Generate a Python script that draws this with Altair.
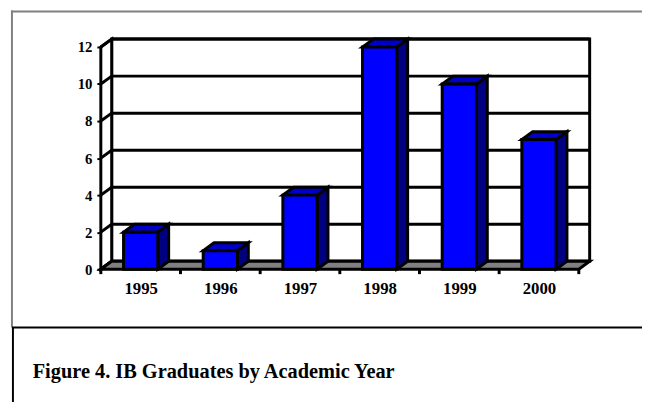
import altair as alt
import pandas as pd

# ---- data ----
categories = ["1995", "1996", "1997", "1998", "1999", "2000"]
values = [2, 1, 4, 12, 10, 7]
y_ticks = [0, 2, 4, 6, 8, 10, 12]
caption = "Figure 4. IB Graduates by Academic Year"

# ---- layout / style ----
W, H = 484, 225
N = len(categories)
YMAX = 12
PX_DX, PX_DY = 11, 8                 # 3-D depth in pixels
DX = PX_DX * N / W                   # depth in x data units
DY = PX_DY * YMAX / H                # depth in y data units
HALF = 0.215                         # half bar width (category units)
FONT = "Liberation Serif"
LW = 3

label_expr = "[" + ",".join("'%s'" % c for c in categories) + "][floor(datum.value)]"
XS = alt.Scale(domain=[0, N], nice=False, zero=False)
YS = alt.Scale(domain=[0, YMAX], nice=False, zero=False)
X_AXIS = alt.Axis(values=[i + 0.5 for i in range(N)], labelExpr=label_expr, ticks=False,
                  tickSize=0, domain=False, grid=False, title=None, labelFont=FONT,
                  labelFontWeight="bold", labelFontSize=17, labelPadding=12,
                  labelFlush=False, labelOverlap=False, labelColor="black")
Y_AXIS = alt.Axis(values=y_ticks, tickSize=4, tickWidth=2, tickColor="black", domain=False,
                  grid=False, title=None, labelFont=FONT, labelFontWeight="bold",
                  labelFontSize=15, labelPadding=5, labelFlush=False, labelColor="black")


def X(f):
    return alt.X(f, type="quantitative", scale=XS, axis=X_AXIS)


def Y(f):
    return alt.Y(f, type="quantitative", scale=YS, axis=Y_AXIS)


# ---- derived tables ----
bars = pd.DataFrame({"cat": categories, "v": values, "i": range(N)})
bars["x0"] = bars["i"] + 0.5 - HALF
bars["x1"] = bars["i"] + 0.5 + HALF

side_rows, top_rows = [], []
for c, v, x0, x1 in zip(bars["cat"], bars["v"], bars["x0"], bars["x1"]):
    side_rows += [{"cat": c, "x": x1, "lo": 0, "hi": v},
                  {"cat": c, "x": x1 + DX, "lo": DY, "hi": v + DY}]
    top_rows += [{"cat": c, "y": v, "xa": x0, "xb": x1},
                 {"cat": c, "y": v + DY, "xa": x0 + DX, "xb": x1 + DX}]
side = pd.DataFrame(side_rows)
top = pd.DataFrame(top_rows)

wall = pd.DataFrame({"xa": [DX], "xb": [N + DX], "ya": [DY], "yb": [YMAX + DY]})
grid = pd.DataFrame({"t": y_ticks})
grid["tb"] = grid["t"] + DY
grid["xa"] = DX
grid["xb"] = N + DX
grid["x0"] = 0.0
left = pd.DataFrame({"x": [0, DX], "lo": [0, DY], "hi": [YMAX, YMAX + DY]})
floor = pd.DataFrame({"y": [0, DY], "xa": [0, DX], "xb": [N, N + DX]})
bounds = pd.DataFrame({"b": list(range(N + 1))})
dummy = pd.DataFrame({"a": [0]})

# ---- layers ----
back = alt.Chart(wall).mark_rect(fill="white", stroke="black", strokeWidth=LW).encode(
    x=X("xa"), x2="xb", y=Y("ya"), y2="yb")
back_grid = alt.Chart(grid).mark_rule(color="black", strokeWidth=LW).encode(
    x=X("xa"), x2="xb", y=Y("tb"))
left_wall = alt.Chart(left).mark_area(fill="white", stroke="black", strokeWidth=LW,
                                      opacity=1).encode(x=X("x"), y=Y("lo"), y2="hi")
left_grid = alt.Chart(grid).mark_rule(color="black", strokeWidth=LW).encode(
    x=X("x0"), x2="xa", y=Y("t"), y2="tb")
floor_l = alt.Chart(floor).mark_area(orient="horizontal", fill="#808080", stroke="black",
                                     strokeWidth=LW, opacity=1).encode(
    y=Y("y"), x=X("xa"), x2="xb")
xticks = alt.Chart(bounds).mark_rule(color="black", strokeWidth=LW).encode(
    x=X("b"), y=alt.value(H), y2=alt.value(H + 5))
sides = alt.Chart(side).mark_area(fill="#000080", stroke="black", strokeWidth=LW,
                                  opacity=1).encode(
    x=X("x"), y=Y("lo"), y2="hi", detail="cat:N")
tops = alt.Chart(top).mark_area(orient="horizontal", fill="#0000C8", stroke="black",
                                strokeWidth=LW, opacity=1).encode(
    y=Y("y"), x=X("xa"), x2="xb", detail="cat:N")
fronts = alt.Chart(bars).mark_rect(fill="#0000FF", stroke="black", strokeWidth=LW).encode(
    x=X("x0"), x2="x1", y=Y("v"), y2=alt.datum(0))

# ---- frame and caption (page decoration) ----
gray_top = alt.Chart(dummy).mark_rule(color="#808080", strokeWidth=2).encode(
    x=alt.value(-91), x2=alt.value(548), y=alt.value(-36))
gray_left = alt.Chart(dummy).mark_rule(color="#808080", strokeWidth=2).encode(
    x=alt.value(-90), y=alt.value(-37), y2=alt.value(284))
black_h = alt.Chart(dummy).mark_rule(color="black", strokeWidth=2).encode(
    x=alt.value(-90), x2=alt.value(548), y=alt.value(284))
black_v = alt.Chart(dummy).mark_rule(color="black", strokeWidth=2).encode(
    x=alt.value(-89), y=alt.value(284), y2=alt.value(360))
cap = alt.Chart(pd.DataFrame({"t": [caption]})).mark_text(
    align="left", baseline="alphabetic", font=FONT, fontWeight="bold", fontSize=20.6,
    color="black").encode(x=alt.value(-69), y=alt.value(335), text="t:N")

chart = alt.layer(back, back_grid, left_wall, left_grid, floor_l, xticks, sides, tops,
                  fronts, gray_top, gray_left, black_h, black_v, cap).properties(
    width=W, height=H,
    autosize=alt.AutoSizeParams(type="none"),
    padding={"left": 94, "top": 37, "right": 64, "bottom": 132},
).configure_view(stroke=None)

chart.save("out.html", embed_options={"renderer": "svg", "actions": False})
